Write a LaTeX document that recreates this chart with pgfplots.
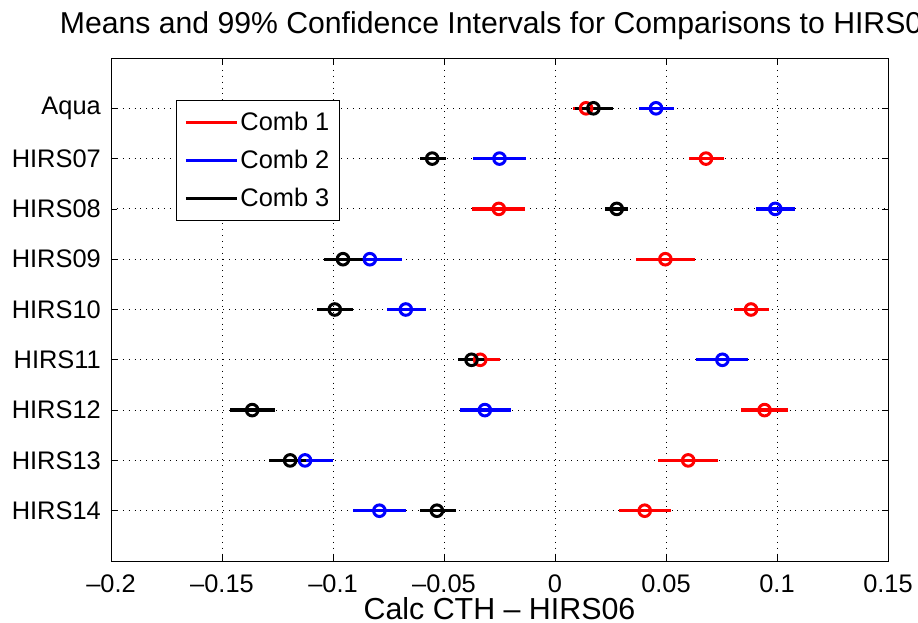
\documentclass[border=0pt]{standalone}
\usepackage{pgfplots}
\usepackage{pgfplotstable}
\pgfplotsset{compat=1.18}
\usepackage{fontspec}
\setmainfont{Liberation Sans}

\pgfplotstableread{
y m ep em
1 0.0140 0.0060 0.0060
2 0.0680 0.0082 0.0078
3 -0.0253 0.0118 0.0120
4 0.0497 0.0134 0.0134
5 0.0883 0.0080 0.0076
6 -0.0337 0.0090 0.0090
7 0.0944 0.0106 0.0108
8 0.0600 0.0134 0.0136
9 0.0404 0.0118 0.0116
}\redtab

\pgfplotstableread{
y m ep em
1 0.0455 0.0080 0.0078
2 -0.0250 0.0120 0.0120
3 0.0992 0.0090 0.0087
4 -0.0834 0.0146 0.0146
5 -0.0672 0.0090 0.0084
6 0.0754 0.0116 0.0117
7 -0.0316 0.0119 0.0114
8 -0.1126 0.0125 0.0125
9 -0.0791 0.0121 0.0117
}\bluetab

\pgfplotstableread{
y m ep em
1 0.0173 0.0087 0.0085
2 -0.0553 0.0060 0.0057
3 0.0278 0.0053 0.0051
4 -0.0955 0.0093 0.0087
5 -0.0992 0.0084 0.0078
6 -0.0376 0.0064 0.0063
7 -0.1364 0.0102 0.0099
8 -0.1193 0.0070 0.0097
9 -0.0532 0.0086 0.0078
}\blacktab

\begin{document}
\begin{tikzpicture}
\begin{axis}[
  at={(0,0)}, anchor=south west,
  scale only axis, width=777bp, height=503bp,
  xmin=-0.2, xmax=0.15, ymin=0, ymax=10, y dir=reverse,
  xtick={-0.2,-0.15,-0.1,-0.05,0,0.05,0.1,0.15},
  xticklabels={\textendash0.2,\textendash0.15,\textendash0.1,\textendash0.05,0,0.05,0.1,0.15},
  ytick={1,2,3,4,5,6,7,8,9},
  yticklabels={Aqua,HIRS07,HIRS08,HIRS09,HIRS10,HIRS11,HIRS12,HIRS13,HIRS14},
  tick align=inside, major tick length=6bp,
  xtick pos=both, ytick pos=both,
  tick style={black, line width=0.8bp},
  grid=major,
  major grid style={black, line width=0.9bp, dash pattern=on 0.9bp off 5bp},
  axis line style={black, line width=0.8bp},
  xticklabel style={font=\fontsize{25.5}{30}\selectfont, anchor=base, inner sep=0pt, yshift=-31bp},
  yticklabel style={font=\fontsize{25.5}{30}\selectfont, anchor=east, inner sep=0pt, xshift=-10bp},
  title={Means and 99\% Confidence Intervals for Comparisons to HIRS06},
  title style={at={(0.5,1)}, anchor=base, yshift=19bp, font=\fontsize{30.3}{36}\selectfont, inner sep=0pt},
  xlabel={Calc CTH \textendash\ HIRS06},
  xlabel style={at={(0.5,0)}, anchor=base, yshift=-58bp, font=\fontsize{30.5}{36}\selectfont, inner sep=0pt},
  legend style={at={(0.0837,0.9165)}, anchor=north west, draw=black, line width=0.8bp,
    font=\fontsize{25.5}{30}\selectfont, row sep=14bp, inner xsep=8bp, inner ysep=10bp},
  legend cell align=left,
  legend image code/.code={\draw[#1, line width=3bp] (0bp,0bp) -- (51bp,0bp);},
  error bars/x dir=both, error bars/x explicit,
  error bars/error mark=none,
]
\addplot[red, mark=o, mark size=5.8bp, only marks, line width=3bp, mark options={line width=3bp},
  error bars/error bar style={line width=3.3bp, red}]
  table[x=m, y=y, x error plus=ep, x error minus=em] {\redtab};
\addlegendentry{Comb 1}
\addplot[blue, mark=o, mark size=5.8bp, only marks, line width=3bp, mark options={line width=3bp},
  error bars/error bar style={line width=3.3bp, blue}]
  table[x=m, y=y, x error plus=ep, x error minus=em] {\bluetab};
\addlegendentry{Comb 2}
\addplot[black, mark=o, mark size=5.8bp, only marks, line width=3bp, mark options={line width=3bp},
  error bars/error bar style={line width=3.3bp, black}]
  table[x=m, y=y, x error plus=ep, x error minus=em] {\blacktab};
\addlegendentry{Comb 3}
\end{axis}
\pgfresetboundingbox
\path[use as bounding box] (-111bp,-62bp) rectangle (807bp,561bp);
\end{tikzpicture}
\end{document}
